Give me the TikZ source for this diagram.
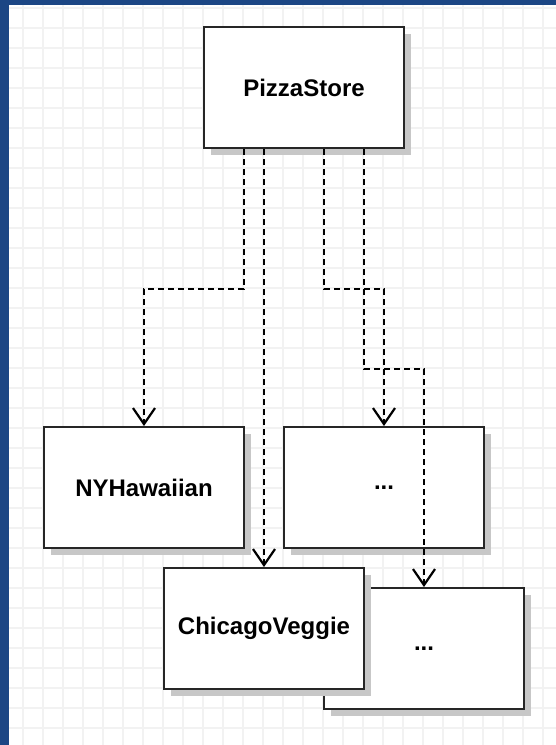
\documentclass[tikz,border=0pt]{standalone}
\usepackage{fontspec}
\setmainfont{Liberation Sans}
\usetikzlibrary{arrows.meta,positioning,shadows}
\definecolor{frameblue}{RGB}{28,70,132}

\begin{document}
\begin{tikzpicture}[x=0.5pt, y=-0.5pt, font=\fontsize{12}{14}\selectfont\bfseries,
  cls/.style={draw=black!85, line width=1pt, fill=white, minimum width=100pt, minimum height=60.5pt,
    drop shadow={shadow xshift=3.5pt, shadow yshift=-3.5pt, fill=black!22, opacity=1}},
  dep/.style={dash pattern=on 3pt off 2pt, line width=0.75pt, -{Straight Barb[length=8pt, width=11pt, line width=1.1pt]}}]
\useasboundingbox (0,0) rectangle (556,745);
% background grid and frame
\fill[white] (0,0) rectangle (556,745);
\foreach \gx in {23,43,...,543} \draw[black!5, line width=1pt] (\gx,5) -- (\gx,745);
\foreach \gy in {8,28,...,728} \draw[black!5, line width=1pt] (9,\gy) -- (556,\gy);
\fill[frameblue] (0,0) rectangle (9,745);
\fill[frameblue] (0,0) rectangle (556,5);
% classes
\node[cls] (store) at (304,87.5) {PizzaStore};
\node[cls] (hawaiian) at (144,487.5) {NYHawaiian};
\node[cls, right=19pt of hawaiian] (other) {...};
\node[cls, below=19pt of other, xshift=20pt] (other2) {...};
\node[cls, below=9pt of hawaiian, xshift=60pt] (veggie) {ChicagoVeggie};
% dependencies
\draw[dep] ([shift={(-60,0)}]store.south) -- ++(0,140) -| (hawaiian.north);
\draw[dep] ([shift={(-40,0)}]store.south) -- (veggie.north);
\draw[dep] ([shift={(20,0)}]store.south) -- ++(0,140) -| (other.north);
\draw[dep] ([shift={(60,0)}]store.south) -- ++(0,220) -| (other2.north);
\end{tikzpicture}
\end{document}
